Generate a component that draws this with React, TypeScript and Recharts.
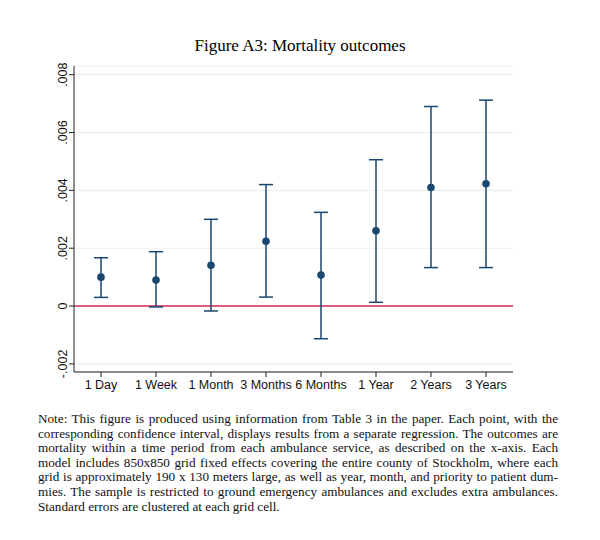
import {
  CartesianGrid,
  ComposedChart,
  ErrorBar,
  ReferenceLine,
  Scatter,
  XAxis,
  YAxis,
} from "recharts";

const horizons = ["1 Day", "1 Week", "1 Month", "3 Months", "6 Months", "1 Year", "2 Years", "3 Years"];
const coefs = [0.001, 0.0009, 0.00141, 0.00224, 0.00107, 0.0026, 0.0041, 0.00423];
const lowerCI = [0.0003, -0.00003, -0.00017, 0.00031, -0.00113, 0.00013, 0.00133, 0.00133];
const upperCI = [0.00167, 0.00188, 0.003, 0.0042, 0.00324, 0.00506, 0.0069, 0.00712];
const yTicks = [-0.002, 0, 0.002, 0.004, 0.006, 0.008];

const noteLines = [
  "Note: This figure is produced using information from Table 3 in the paper. Each point, with the",
  "corresponding confidence interval, displays results from a separate regression. The outcomes are",
  "mortality within a time period from each ambulance service, as described on the x-axis. Each",
  "model includes 850x850 grid fixed effects covering the entire county of Stockholm, where each",
  "grid is approximately 190 x 130 meters large, as well as year, month, and priority to patient dum-",
  "mies. The sample is restricted to ground emergency ambulances and excludes extra ambulances.",
  "Standard errors are clustered at each grid cell.",
];

const data = horizons.map((label, i) => ({
  label,
  coef: coefs[i],
  err: [coefs[i] - lowerCI[i], upperCI[i] - coefs[i]],
}));

const NAVY = "#1a476f";
const fmt = (v: number) => (v === 0 ? "0" : v.toFixed(3).replace("0.", "."));

function RotatedTick(props: any) {
  const { x, y, payload } = props;
  const bx = x;
  return (
    <text
      x={bx}
      y={y}
      transform={`rotate(-90 ${bx} ${y})`}
      textAnchor="middle"
      fontSize={12.5}
      fontFamily="Liberation Sans, Arial, sans-serif"
      fill="#111"
    >
      {fmt(payload.value)}
    </text>
  );
}

function Dot(props: any) {
  const { cx, cy } = props;
  return <circle cx={cx} cy={cy} r={3.8} fill={NAVY} />;
}

export default function App() {
  return (
    <div
      style={{
        position: "absolute",
        left: 0,
        top: 0,
        width: 600,
        height: 540,
        background: "#fff",
      }}
    >
      <div
        style={{
          position: "absolute",
          top: 36,
          left: 0,
          width: 600,
          textAlign: "center",
          fontFamily: "Liberation Serif, serif",
          fontSize: 17,
        }}
      >
        Figure A3: Mortality outcomes
      </div>
      <div style={{ position: "absolute", left: 0, top: 0 }}>
        <ComposedChart
          width={600}
          height={410}
          data={data}
          margin={{ top: 66, right: 87, left: 44, bottom: 8 }}
        >
          <CartesianGrid horizontal vertical={false} stroke="#e6eef1" />
          <XAxis
            dataKey="label"
            type="category"
            height={30}
            padding={{ left: 27, right: 27 }}
            tickSize={5}
            tickMargin={3}
            axisLine={{ stroke: "#222" }}
            tickLine={{ stroke: "#222" }}
            interval={0}
            tick={{ fontSize: 12.5, fontFamily: "Liberation Sans, Arial, sans-serif", fill: "#111" }}
          />
          <YAxis
            type="number"
            domain={[-0.00228, 0.0083]}
            ticks={yTicks}
            width={30}
            tickSize={5}
            axisLine={{ stroke: "#222" }}
            tickLine={{ stroke: "#222" }}
            tick={<RotatedTick />}
            interval={0}
            allowDataOverflow
          />
          <ReferenceLine y={0} stroke="#d42a55" strokeWidth={1.5} />
          <Scatter dataKey="coef" fill={NAVY} shape={<Dot />} isAnimationActive={false}>
            <ErrorBar dataKey="err" direction="y" width={7} stroke={NAVY} strokeWidth={1.5} />
          </Scatter>
        </ComposedChart>
      </div>
      <div
        style={{
          position: "absolute",
          top: 412,
          left: 38,
          width: 520,
          fontFamily: "Liberation Serif, serif",
          fontSize: 13.2,
          lineHeight: "14.6px",
          color: "#111",
        }}
      >
        {noteLines.map((line, i) => (
          <div
            key={i}
            style={{
              whiteSpace: "nowrap",
              textAlign: "justify",
              textAlignLast: i === noteLines.length - 1 ? "left" : "justify",
            }}
          >
            {line}
          </div>
        ))}
      </div>
    </div>
  );
}
